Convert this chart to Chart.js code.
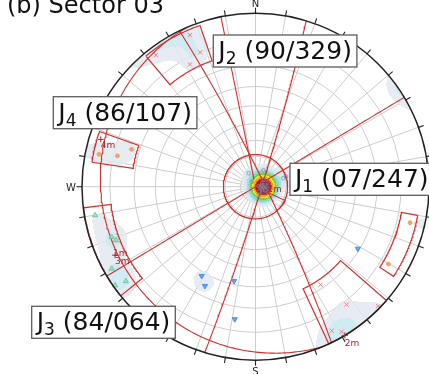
<!DOCTYPE html>
<html>
<head>
<meta charset="utf-8">
<script src="https://cdn.jsdelivr.net/npm/chart.js@4.4.1/dist/chart.umd.min.js"></script>
<style>
  html, body { margin: 0; padding: 0; background: #fff; overflow: hidden; }
  canvas { display: block; }
</style>
</head>
<body>
<canvas id="net" width="429" height="374"></canvas>
<script>
// ---- Joint sets (mean planes, dip / dip direction) ----
const setNames   = ['1', '2', '3', '4'];
const setDips    = [7, 90, 84, 86];
const setDipDirs = [247, 329, 64, 107];

// ---- Poles to joints, [trend, plunge] in degrees ----
const polesJ1 = [
  [333, 80], [26, 78], [323, 86], [73, 71], [72, 69],
  [67, 83], [75, 84], [90, 85], [100, 84], [110, 83], [85, 82], [95, 87],
  [120, 85], [60, 85], [80, 86], [105, 86], [70, 82], [115, 81], [130, 84],
  [90, 83], [50, 83], [140, 86], [100, 80], [78, 88], [160, 84]
];
const polesJ2 = [
  [336.6, 2.8], [337.6, 10.1], [331.8, 12.7], [322.9, 2.9],
  [146.4, 21.7], [142.3, 8.7], [134.2, 0.8], [152.1, 3.6], [149.3, 1.6]
];
const polesJ3 = [
  [259.9, 3.6], [250.7, 7.4], [249, 8.5], [240.3, 2.7], [233.9, 4.5], [234.9, 0.6]
];
const polesJ4 = [
  [281.7, 4.7], [282.6, 11.6], [286.8, 16.6], [103.1, 5.1], [120.2, 6.9]
];
const polesFree = [
  [211.1, 28], [207, 24.6], [121.2, 20.8], [192.8, 31.7], [188.9, 14.6]
];

// ---- Set windows: [trend from, trend to (clockwise), plunge min, plunge max] ----
const windows = [
  [0, 360, 69, 90],
  [320, 341, 1, 15],
  [131, 155, 0, 24],
  [231, 263, 0, 10],
  [278.5, 289.5, 2.7, 19],
  [100, 123, 3, 9]
];
// Window edge traces: [trend, plunge from, plunge to]
const edgeTraces = [
  [348.5, 85, 0],
  [115, 83, 69]
];

// ---- Contour levels (pole density, kernel sum) ----
const contourLevels = [1.2, 1.95, 3.0, 4.0, 5.5, 7, 8.7, 10.4, 11.5];

// ---------------------------------------------------------------
const D2R = Math.PI / 180;
const RED = 'rgb(208,48,48)';
const MEAN_RED = 'rgb(170,40,40)';
const contourColors = ['#e3e7f0', '#cbe8f1', '#a4dde8', '#8fd8b4', '#7ccc3e',
                       '#f0e21c', '#f6a01c', '#e6361e', '#a8151a'];
const contourAlpha = [215, 225, 240, 255, 255, 255, 255, 255, 255];

// Equal-angle, lower hemisphere projection (unit primitive radius)
function proj(trend, plunge) {
  const r = Math.tan((90 - plunge) * D2R / 2);
  const t = trend * D2R;
  return { x: r * Math.sin(t), y: r * Math.cos(t) };
}
function vec(trend, plunge) {
  const t = trend * D2R, p = plunge * D2R;
  return [Math.cos(p) * Math.cos(t), Math.cos(p) * Math.sin(t), Math.sin(p)];
}
function greatCircle(dip, dipDir) {
  const d = dip * D2R, a = dipDir * D2R, s = (dipDir - 90) * D2R;
  const sv = [Math.cos(s), Math.sin(s), 0];
  const dv = [Math.cos(d) * Math.cos(a), Math.cos(d) * Math.sin(a), Math.sin(d)];
  const pts = [];
  for (let f = 0; f <= 180; f += 1) {
    const c = Math.cos(f * D2R), sn = Math.sin(f * D2R);
    const n = c * sv[0] + sn * dv[0], e = c * sv[1] + sn * dv[1], dn = c * sv[2] + sn * dv[2];
    const pl = Math.asin(Math.max(-1, Math.min(1, dn))) / D2R;
    const tr = Math.atan2(e, n) / D2R;
    pts.push(proj(tr, pl));
  }
  return pts;
}
function windowOutline(w) {
  const [t1, t2, p1, p2] = w;
  let span = ((t2 - t1) % 360 + 360) % 360;
  if (span === 0) span = 360;
  const pts = [];
  if (span === 360) {
    for (let k = 0; k <= 360; k += 1) pts.push(proj(t1 + k, p1));
    return pts;
  }
  pts.push(proj(t1, p1), proj(t1, p2));
  for (let k = 0; k <= span; k += 0.5) pts.push(proj(t1 + k, p2));
  pts.push(proj(t2, p2), proj(t2, p1));
  for (let k = span; k >= 0; k -= 0.5) pts.push(proj(t1 + k, p1));
  return pts;
}
function traceLine(tr) {
  return [proj(tr[0], tr[1]), proj(tr[0], tr[2])];
}
const toXY = list => list.map(([t, p]) => proj(t, p));

// ---- datasets ----
const lineSets = [];
setDips.forEach((dip, i) => {
  lineSets.push({ type: 'scatter', data: greatCircle(dip, setDipDirs[i]), showLine: true,
    borderColor: RED, borderWidth: 1.1, pointRadius: 0, fill: false, clip: false, order: 5 });
});
windows.forEach(w => {
  lineSets.push({ type: 'scatter', data: windowOutline(w), showLine: true,
    borderColor: RED, borderWidth: 1.2, pointRadius: 0, fill: false, clip: false, order: 5 });
});
edgeTraces.forEach(tr => {
  lineSets.push({ type: 'scatter', data: traceLine(tr), showLine: true,
    borderColor: RED, borderWidth: 1.1, pointRadius: 0, fill: false, clip: false, order: 5 });
});

const markerSets = [
  { data: toXY(polesJ2), pointStyle: 'crossRot', pointRadius: 3, borderColor: '#f07f86',
    backgroundColor: '#f07f86', pointBorderWidth: 1 },
  { data: toXY(polesJ3), pointStyle: 'triangle', pointRadius: 3, borderColor: '#71c49a',
    backgroundColor: 'rgba(150,215,180,0.6)', pointBorderWidth: 1 },
  { data: toXY(polesJ4), pointStyle: 'circle', pointRadius: 2, borderColor: '#f4a56a',
    backgroundColor: '#f6a060', pointBorderWidth: 1 },
  { data: toXY(polesFree), pointStyle: 'triangle', rotation: 180, pointRadius: 3,
    borderColor: '#4b8fe0', backgroundColor: '#6aa6ee', pointBorderWidth: 1 },
  { data: toXY(polesJ1), pointStyle: 'circle', pointRadius: 1.8, borderColor: 'rgba(120,135,170,0.75)',
    backgroundColor: 'rgba(255,255,255,0)', pointBorderWidth: 0.9 }
].map(d => Object.assign({ type: 'scatter', showLine: false, clip: false, order: 1 }, d));

// ---- layout of annotations (data units of the net) ----
const labelBoxAt = [[0.1988, 0.1349], [-0.2432, 0.8744], [-1.2899, -0.6893], [-1.1654, 0.5187]];
const meanTagOffset = [[2, 9], [0, 11], [0, 9], [0, 9]];
const extraTags = [{ text: '1m', near: 2, dx: -2, dy: 1 }];
const titleText = '(b) Sector 03';

// ---- net drawing plugin ----
const netPlugin = {
  id: 'net',
  beforeDatasetsDraw(chart) {
    const ctx = chart.ctx;
    const sx = chart.scales.x, sy = chart.scales.y;
    const cx = sx.getPixelForValue(0), cy = sy.getPixelForValue(0);
    const R = sx.getPixelForValue(1) - cx;
    const W = chart.width, H = chart.height;
    ctx.save();

    // polar grid
    ctx.strokeStyle = 'rgb(205,205,205)';
    ctx.lineWidth = 1;
    for (let p = 10; p <= 80; p += 10) {
      const r = R * Math.tan((90 - p) * D2R / 2);
      ctx.beginPath(); ctx.arc(cx, cy, r, 0, 2 * Math.PI); ctx.stroke();
    }
    for (let t = 0; t < 360; t += 10) {
      const a = t * D2R;
      ctx.beginPath();
      ctx.moveTo(cx, cy);
      ctx.lineTo(cx + R * Math.sin(a), cy - R * Math.cos(a));
      ctx.stroke();
    }

    // pole density contours
    const allPoles = [].concat(polesJ1, polesJ2, polesJ3, polesJ4, polesFree).map(p => vec(p[0], p[1]));
    const K = 1 / Math.pow(5 * D2R, 2);
    const rgb = contourColors.map(c => [parseInt(c.substr(1, 2), 16), parseInt(c.substr(3, 2), 16), parseInt(c.substr(5, 2), 16)]);
    const off = document.createElement('canvas');
    off.width = W; off.height = H;
    const octx = off.getContext('2d');
    const img = octx.createImageData(W, H);
    for (let py = 0; py < H; py++) {
      const y = sy.getValueForPixel(py + 0.5);
      for (let px = 0; px < W; px++) {
        const x = sx.getValueForPixel(px + 0.5);
        const r2 = x * x + y * y;
        if (r2 > 1) continue;
        const pl = Math.PI / 2 - 2 * Math.atan(Math.sqrt(r2));
        const tr = Math.atan2(x, y);
        const cp = Math.cos(pl);
        const n = cp * Math.cos(tr), e = cp * Math.sin(tr), d = Math.sin(pl);
        let s = 0;
        for (let k = 0; k < allPoles.length; k++) {
          const v = allPoles[k];
          const dot = Math.abs(n * v[0] + e * v[1] + d * v[2]);
          s += Math.exp(K * (dot - 1));
        }
        let lvl = -1;
        for (let i = 0; i < contourLevels.length; i++) if (s >= contourLevels[i]) lvl = i;
        if (lvl < 0) continue;
        const o = (py * W + px) * 4;
        img.data[o] = rgb[lvl][0]; img.data[o + 1] = rgb[lvl][1]; img.data[o + 2] = rgb[lvl][2];
        img.data[o + 3] = contourAlpha[lvl];
      }
    }
    octx.putImageData(img, 0, 0);
    ctx.drawImage(off, 0, 0);
    ctx.restore();
  },
  afterDatasetsDraw(chart) {
    const ctx = chart.ctx;
    const sx = chart.scales.x, sy = chart.scales.y;
    const cx = sx.getPixelForValue(0), cy = sy.getPixelForValue(0);
    const R = sx.getPixelForValue(1) - cx;
    const px = p => ({ x: sx.getPixelForValue(p.x), y: sy.getPixelForValue(p.y) });
    ctx.save();

    // primitive circle and ticks
    ctx.strokeStyle = '#222';
    ctx.lineWidth = 1.5;
    ctx.beginPath(); ctx.arc(cx, cy, R, 0, 2 * Math.PI); ctx.stroke();
    ctx.lineWidth = 1.1;
    for (let t = 0; t < 360; t += 10) {
      const a = t * D2R, sa = Math.sin(a), ca = Math.cos(a);
      ctx.beginPath();
      ctx.moveTo(cx + R * sa, cy - R * ca);
      ctx.lineTo(cx + (R + 5.5) * sa, cy - (R + 5.5) * ca);
      ctx.stroke();
    }
    ctx.fillStyle = '#222';
    ctx.font = '10px "DejaVu Sans"';
    ctx.textAlign = 'center';
    ctx.textBaseline = 'alphabetic';
    ctx.fillText('N', cx, cy - R - 6.5);
    ctx.fillText('S', cx, cy + R + 15);
    ctx.textAlign = 'right';
    ctx.fillText('W', cx - R - 6, cy + 4);

    // mean poles of the sets
    ctx.strokeStyle = MEAN_RED;
    ctx.fillStyle = MEAN_RED;
    ctx.lineWidth = 1;
    ctx.font = '9px "DejaVu Sans"';
    ctx.textAlign = 'left';
    const means = setDips.map((dip, i) => px(proj(setDipDirs[i] + 180, 90 - dip)));
    means.forEach((m, i) => {
      ctx.beginPath();
      ctx.moveTo(m.x - 3, m.y); ctx.lineTo(m.x + 3, m.y);
      ctx.moveTo(m.x, m.y - 3); ctx.lineTo(m.x, m.y + 3);
      ctx.stroke();
      ctx.fillText(setNames[i] + 'm', m.x + meanTagOffset[i][0], m.y + meanTagOffset[i][1]);
    });
    extraTags.forEach(t => {
      const m = means[t.near];
      ctx.fillText(t.text, m.x + t.dx, m.y + t.dy);
    });

    // set labels
    setNames.forEach((name, i) => {
      const tl = px({ x: labelBoxAt[i][0], y: labelBoxAt[i][1] });
      const dd = String(setDipDirs[i]).padStart(3, '0');
      const dp = String(setDips[i]).padStart(2, '0');
      const rest = ' (' + dp + '/' + dd + ')';
      ctx.font = '25px "DejaVu Sans"';
      const wJ = ctx.measureText('J').width;
      const wRest = ctx.measureText(rest).width;
      ctx.font = '17px "DejaVu Sans"';
      const wSub = ctx.measureText(name).width;
      const w = wJ + wSub + wRest + 10, h = 32;
      ctx.fillStyle = '#fff';
      ctx.fillRect(tl.x, tl.y, w, h);
      ctx.strokeStyle = '#5c5c5c';
      ctx.lineWidth = 1.3;
      ctx.strokeRect(tl.x, tl.y, w, h);
      ctx.fillStyle = '#111';
      ctx.font = '25px "DejaVu Sans"';
      ctx.fillText('J', tl.x + 5, tl.y + 24);
      ctx.font = '17px "DejaVu Sans"';
      ctx.fillText(name, tl.x + 5 + wJ, tl.y + 29);
      ctx.font = '25px "DejaVu Sans"';
      ctx.fillText(rest, tl.x + 5 + wJ + wSub, tl.y + 24);
    });

    // title
    ctx.fillStyle = '#111';
    ctx.font = '24px "DejaVu Sans"';
    ctx.fillText(titleText, 7, 12.5);
    ctx.restore();
  }
};

new Chart(document.getElementById('net'), {
  type: 'scatter',
  data: { datasets: lineSets.concat(markerSets) },
  options: {
    responsive: false,
    animation: false,
    devicePixelRatio: 1,
    events: [],
    layout: { padding: 0, autoPadding: false },
    plugins: { legend: { display: false }, tooltip: { enabled: false }, title: { display: false } },
    scales: {
      x: { type: 'linear', min: -255.5 / 173.5, max: (429 - 255.5) / 173.5, display: false },
      y: { type: 'linear', min: -(374 - 186.7) / 173.5, max: 186.7 / 173.5, display: false }
    }
  },
  plugins: [netPlugin]
});
</script>
</body>
</html>
